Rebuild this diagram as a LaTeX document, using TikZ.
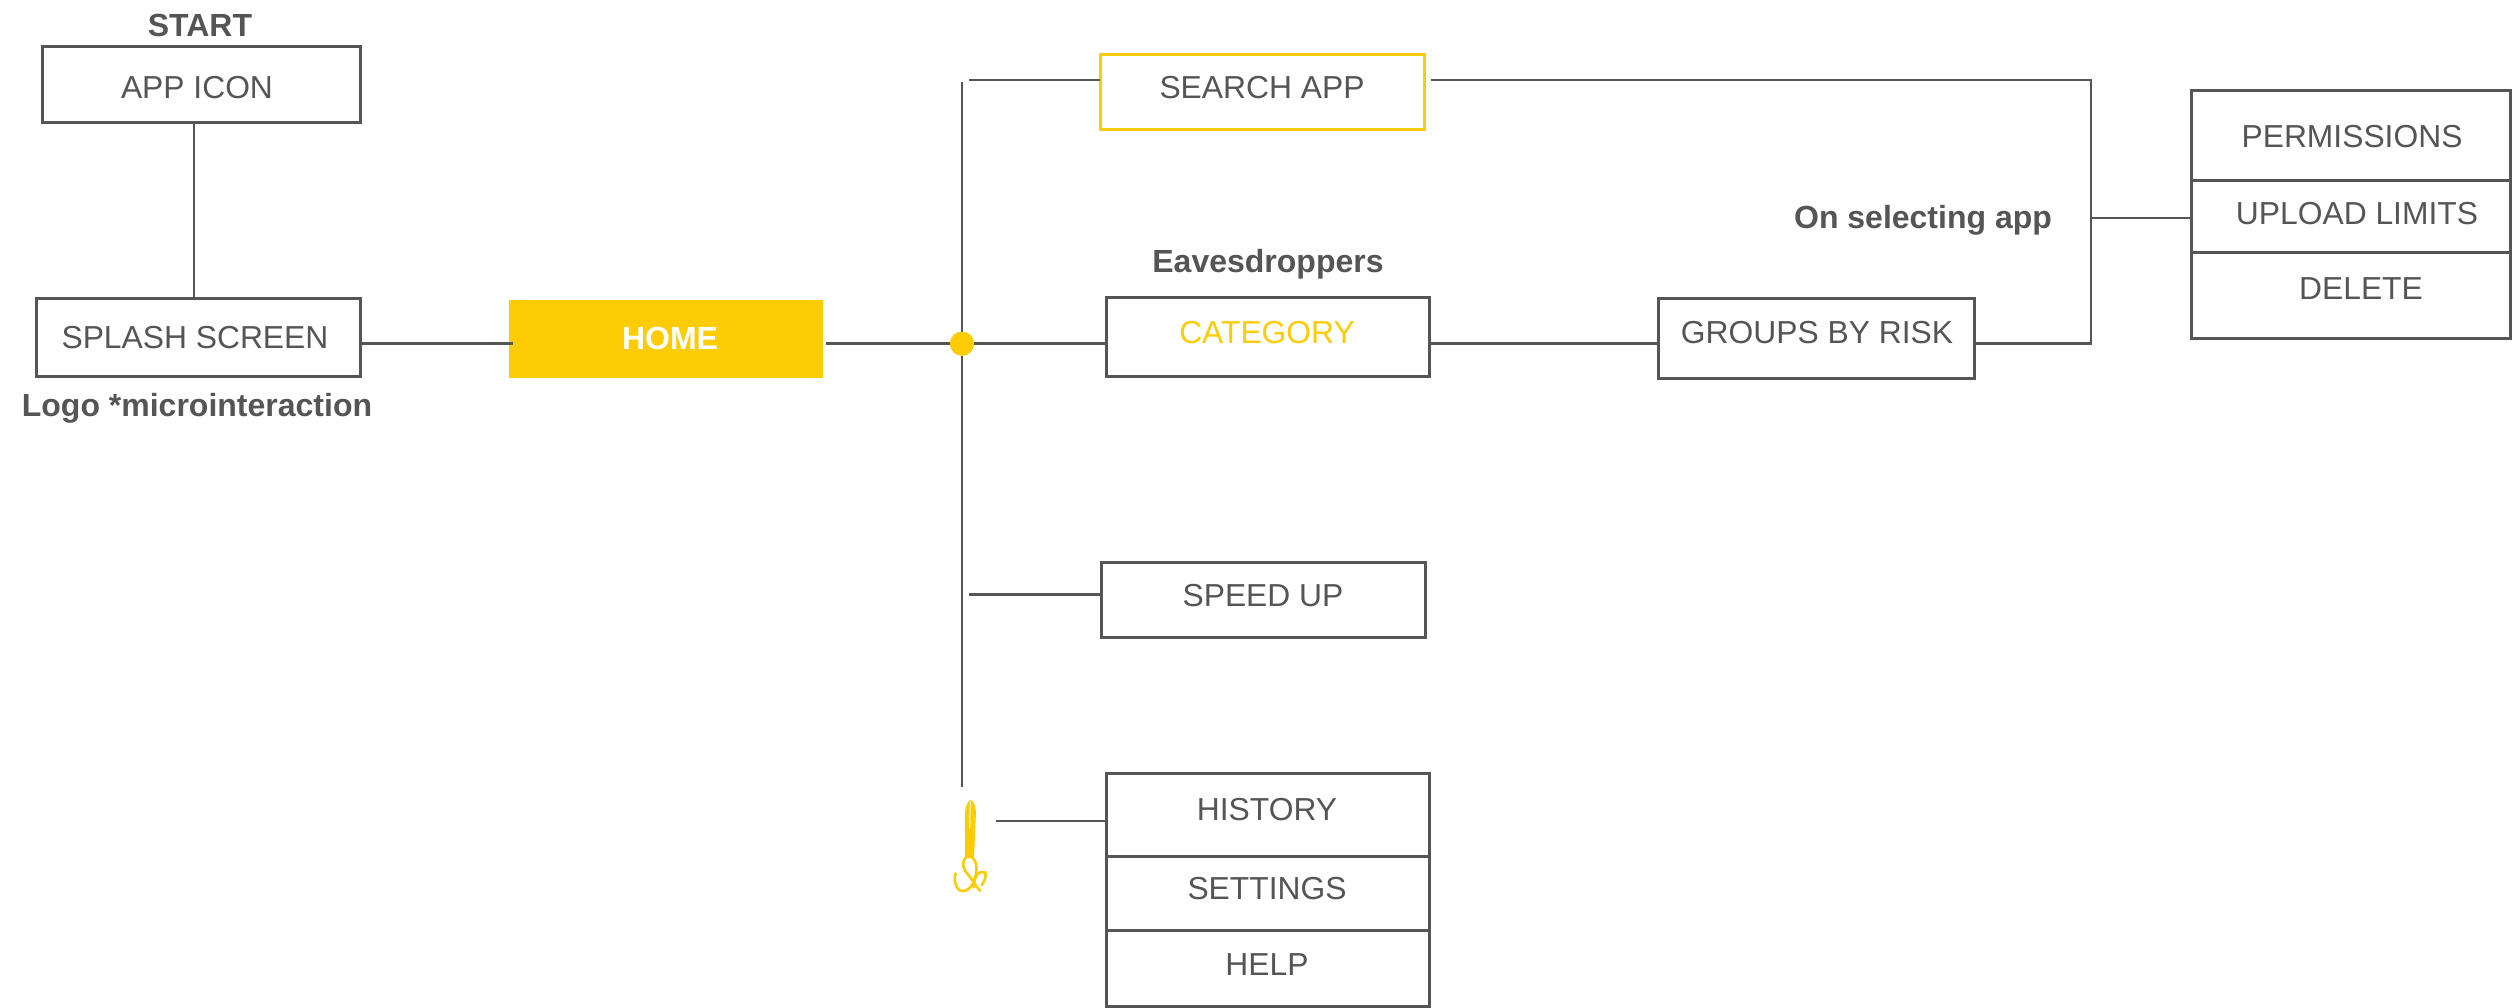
\documentclass[tikz,border=0pt]{standalone}
\usepackage{fontspec}
\setmainfont{Liberation Sans}
\definecolor{ink}{HTML}{555555}
\definecolor{sun}{HTML}{FDCC05}
\tikzset{
  boxnode/.style={draw=ink,line width=3pt,fill=white,inner sep=0pt,outer sep=0pt,minimum width=#1,anchor=north west},
  wire/.style={draw=ink,line width=2.8pt},
  txt/.style={text=ink,inner sep=0pt,yshift=-0.8pt,font=\fontsize{31.8}{36}\selectfont},
  bold/.style={text=ink,inner sep=0pt,yshift=-2.6pt,font=\fontsize{32}{36}\selectfont\bfseries},
}
\newcommand{\bx}[5]{\node[boxnode=#4pt,minimum height=#5pt,#1] (#2) at #3 {};}
\begin{document}
\begin{tikzpicture}[x=1pt,y=-1pt]
\useasboundingbox (0,0) rectangle (2516,1008);
\clip (0,0) rectangle (2516,1008);
% boxes
\bx{}{app}{(42,47)}{318}{76}
\bx{}{splash}{(36,298.5)}{324}{77.5}
\node[fill=sun,inner sep=0pt,outer sep=0pt,minimum width=314pt,minimum height=78pt,anchor=north west] (home) at (509,300) {};
\bx{draw=sun}{search}{(1100,55)}{324.5}{75}
\bx{}{category}{(1106.5,298)}{323}{78}
\bx{}{groups}{(1658.7,298.7)}{315.3}{79.3}
\bx{}{speed}{(1101,562)}{324}{75}
\bx{}{history}{(1106,773.3)}{323}{82.7}
\bx{}{settings}{(1106,856)}{323}{74.7}
\bx{}{help}{(1106,930.7)}{323}{76}
\bx{}{perm}{(2191,90.7)}{319}{90}
\bx{}{upload}{(2191,180.7)}{319}{72}
\bx{}{delete}{(2191,252.7)}{319}{85.3}
% texts
\node[bold] (tstart) at (200,23) {START};
\node[txt] (tapp) at (197,87) {APP ICON};
\node[txt] (tsplash) at (195,337) {SPLASH SCREEN};
\node[bold] (tlogo) at (197,406) {Logo *microinteraction};
\node[bold,text=white] (thome) at (670,335.5) {HOME};
\node[txt] (tsearch) at (1262,87) {SEARCH APP};
\node[bold] (teaves) at (1268,262) {Eavesdroppers};
\node[txt,text=sun] (tcat) at (1267,332) {CATEGORY};
\node[txt] (tgroups) at (1817,332) {GROUPS BY RISK};
\node[txt] (tspeed) at (1263,595) {SPEED UP};
\node[txt] (thist) at (1267,809) {HISTORY};
\node[txt] (tset) at (1267,888) {SETTINGS};
\node[txt] (thelp) at (1267,964) {HELP};
\node[txt] (tperm) at (2352,135.7) {PERMISSIONS};
\node[txt] (tup) at (2357,213) {UPLOAD LIMITS};
\node[txt] (tdel) at (2361,288) {DELETE};
\node[bold] (tsel) at (1923,218) {On selecting app};
% junction and free ends
\coordinate (ax) at (194,0);
\coordinate (my) at (0,343.7);
\coordinate (sy) at (0,80);
\coordinate (spy) at (0,594.7);
\coordinate (hy) at (0,821);
\coordinate (rx) at (2091,218);
\coordinate (homeout) at (825.5,343.7);
\coordinate (homein) at (513,343.7);
\coordinate (spine) at (962,82);
\coordinate (spineend) at (962,787);
\coordinate (b1) at (969,80);
\coordinate (b2) at (969,594.7);
\coordinate (b3) at (996,821);
\coordinate (searchout) at (1430.6,80);
\node[circle,fill=sun,inner sep=0pt,outer sep=0pt,minimum size=24pt] (dot) at (962,343.7) {};
% connectors
\draw[wire] (app.south -| ax) -- (splash.north -| ax);
\draw[wire] (splash.east |- my) -- (homein);
\draw[wire] (homeout) -- (dot);
\draw[wire] (dot) -- (category.west |- my);
\draw[wire] (spine) -- (dot);
\draw[wire] (dot) -- (spineend);
\draw[wire] (b1) -- (search.west |- sy);
\draw[wire] (b2) -- (speed.west |- spy);
\draw[wire] (b3) -- (history.west |- hy);
\draw[wire] (category.east |- my) -- (groups.west |- my);
\draw[wire,line join=miter] (searchout) -- (rx |- sy) -- (rx |- my) -- (groups.east |- my);
\draw[wire] (rx) -- (upload.west |- rx);
\node[circle,fill=sun,inner sep=0pt,outer sep=0pt,minimum size=24pt] at (dot) {};
% menu icon
\begin{scope}[shift={(900,760)},x=0.3333pt,y=-0.3333pt]
\fill[sun] (195,295) -- (195,155) .. controls (197,135) and (205,122) .. (212,120) .. controls (220,122) and (227,135) .. (228,155) -- (222,295) -- cycle;
\draw[white,line width=1pt] (211,125) -- (209,205);
\draw[sun,line width=2.6pt,line cap=round] (198,292) .. controls (183,310) and (188,325) .. (205,345) .. controls (220,362) and (228,380) .. (240,392);
\draw[sun,line width=2.6pt,line cap=round] (217,292) .. controls (235,310) and (232,345) .. (218,372) .. controls (205,395) and (180,402) .. (170,380) .. controls (163,368) and (163,352) .. (167,340);
\draw[sun,line width=2.6pt,line cap=round] (222,382) .. controls (218,350) and (240,328) .. (256,338) .. controls (260,350) and (252,365) .. (245,376);
\end{scope}
\end{tikzpicture}
\end{document}
